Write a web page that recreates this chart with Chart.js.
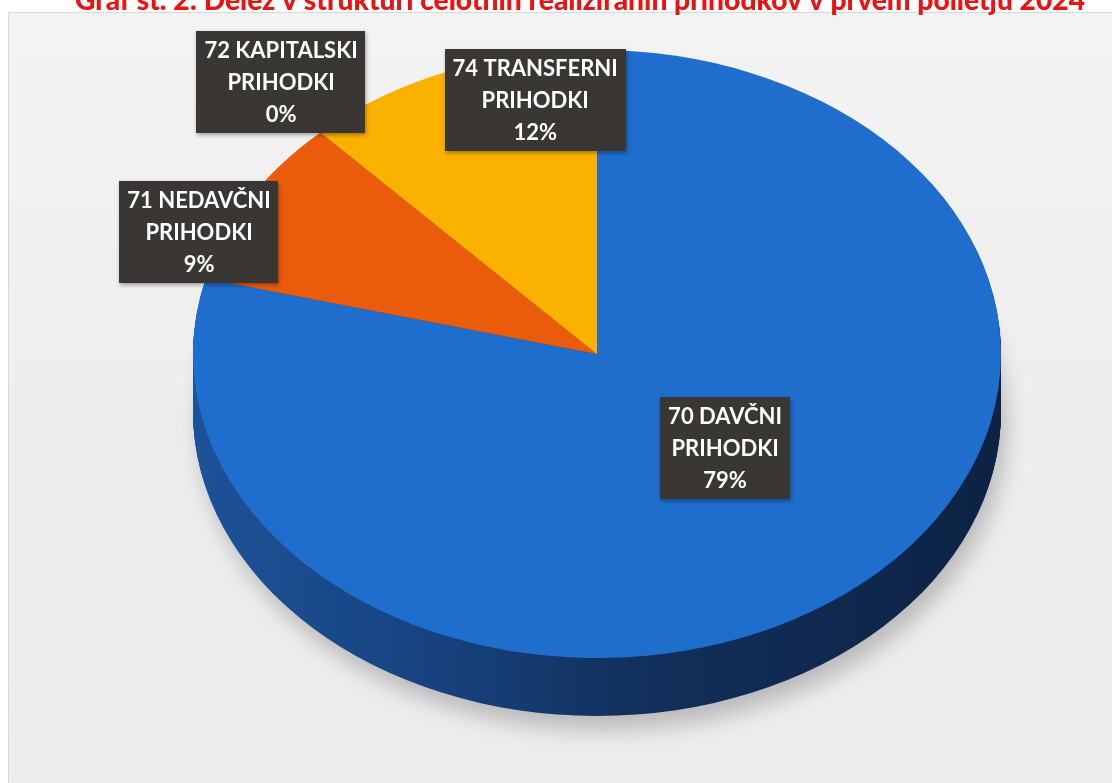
<!DOCTYPE html>
<html>
<head>
<meta charset="utf-8">
<script src="https://cdn.jsdelivr.net/npm/chart.js@4/dist/chart.umd.min.js"></script>
<style>
  html, body { margin: 0; padding: 0; background: #ffffff; overflow: hidden; }
  #wrap { position: relative; width: 1117px; height: 783px; }
  canvas { display: block; }
</style>
</head>
<body>
<div id="wrap"><canvas id="c" width="1117" height="783"></canvas></div>
<script>
// ---- data ----
const titleText = 'Graf št. 2: Delež v strukturi celotnih realiziranih prihodkov v prvem polletju 2024';
const categories = ['70 DAVČNI PRIHODKI', '71 NEDAVČNI PRIHODKI', '72 KAPITALSKI PRIHODKI', '74 TRANSFERNI PRIHODKI'];
const shares = [79, 9, 0, 12];
const topColors = ['#1f6dcc', '#ea5b0c', '#fbb100', '#fbb100'];
const sideColors = ['#12305c', '#8a3507', '#9a6c00', '#9a6c00'];

// ---- layout (styling) ----
const CX = 597, CY = 354, RX = 404, RY = 304, DEPTH = 58;
const labelAnchors = [[0.317, 0.31], [-0.985, -0.40], [-0.782, -0.895], [-0.153, -0.835]];

const pie3d = {
  id: 'pie3d',
  beforeDraw(chart) {
    const ctx = chart.ctx;
    ctx.save();
    ctx.fillStyle = '#ffffff';
    ctx.fillRect(0, 0, chart.width, chart.height);
    const g = ctx.createLinearGradient(0, 12, 0, 783);
    g.addColorStop(0, '#f3f3f3');
    g.addColorStop(0.5, '#eeeeee');
    g.addColorStop(1, '#ededed');
    ctx.fillStyle = g;
    ctx.fillRect(8, 12, 1104, 771);
    ctx.strokeStyle = '#d8d8d8';
    ctx.lineWidth = 1;
    ctx.beginPath(); ctx.moveTo(8, 12.5); ctx.lineTo(1112, 12.5); ctx.stroke();
    ctx.beginPath(); ctx.moveTo(8.5, 12); ctx.lineTo(8.5, 783); ctx.stroke();
    // cut-off title
    ctx.fillStyle = '#ee1111';
    ctx.font = '900 29px Lato';
    ctx.textAlign = 'center';
    ctx.textBaseline = 'alphabetic';
    ctx.fillText(titleText, 580, 10, 1010);
    ctx.restore();
  },
  beforeDatasetsDraw(chart) {
    const ctx = chart.ctx;
    const meta = chart.getDatasetMeta(0);
    const a0 = meta.data[0];
    const cx = a0.x, cy = a0.y, R = a0.outerRadius;
    const sx = RX / R, sy = RY / R;
    // side (depth) of the pie
    for (let d = DEPTH; d >= 1; d--) {
      ctx.save();
      if (d === DEPTH) {
        ctx.shadowColor = 'rgba(0,0,0,0.22)';
        ctx.shadowBlur = 22;
        ctx.shadowOffsetX = 6;
        ctx.shadowOffsetY = 14;
      }
      ctx.translate(CX, CY + d); ctx.scale(sx, sy); ctx.translate(-cx, -cy);
      meta.data.forEach((arc, i) => {
        if (arc.endAngle - arc.startAngle <= 0) return;
        ctx.beginPath();
        ctx.moveTo(cx, cy);
        ctx.arc(cx, cy, R, arc.startAngle, arc.endAngle);
        ctx.closePath();
        if (i === 0) {
          const g = ctx.createLinearGradient(cx - R, 0, cx + R, 0);
          g.addColorStop(0, '#1d5299');
          g.addColorStop(0.3, '#17427e');
          g.addColorStop(0.55, '#12305c');
          g.addColorStop(1, '#0d2244');
          ctx.fillStyle = g;
        } else {
          ctx.fillStyle = sideColors[i];
        }
        ctx.fill();
      });
      ctx.restore();
    }
    // transform for the top face drawn by Chart.js
    ctx.save();
    ctx.translate(CX, CY); ctx.scale(sx, sy); ctx.translate(-cx, -cy);
  },
  afterDatasetsDraw(chart) {
    const ctx = chart.ctx;
    ctx.restore();
    const ds = chart.data.datasets[0].data;
    const sum = ds.reduce((a, b) => a + b, 0);
    ctx.save();
    ctx.font = 'bold 22px Lato';
    ctx.textAlign = 'center';
    ctx.textBaseline = 'middle';
    const lh = 32;
    chart.data.labels.forEach((name, i) => {
      const k = name.lastIndexOf(' ');
      const lines = [name.slice(0, k), name.slice(k + 1), Math.round(ds[i] / sum * 100) + '%'];
      const w = Math.max(...lines.map(s => ctx.measureText(s).width)) + 16;
      const h = lines.length * lh + 6;
      const x = CX + labelAnchors[i][0] * RX;
      const y = CY + labelAnchors[i][1] * RY;
      ctx.save();
      ctx.shadowColor = 'rgba(0,0,0,0.35)';
      ctx.shadowBlur = 4;
      ctx.shadowOffsetX = 1;
      ctx.shadowOffsetY = 2;
      ctx.fillStyle = '#3a3633';
      ctx.fillRect(Math.round(x - w / 2), Math.round(y - h / 2), Math.round(w), h);
      ctx.restore();
      ctx.fillStyle = '#ffffff';
      lines.forEach((s, j) => {
        ctx.fillText(s, x, y - h / 2 + 3 + lh * j + lh / 2 + 1);
      });
    });
    ctx.restore();
  }
};

function build() {
  new Chart(document.getElementById('c'), {
    type: 'pie',
    data: {
      labels: categories,
      datasets: [{
        data: shares,
        backgroundColor: topColors,
        borderWidth: 0
      }]
    },
    options: {
      responsive: false,
      animation: false,
      events: [],
      layout: { padding: 0 },
      plugins: { legend: { display: false }, tooltip: { enabled: false }, title: { display: false } }
    },
    plugins: [pie3d]
  });
}
Promise.all([document.fonts.load('bold 22px Lato'), document.fonts.load('900 29px Lato')]).then(build, build);
</script>
</body>
</html>
